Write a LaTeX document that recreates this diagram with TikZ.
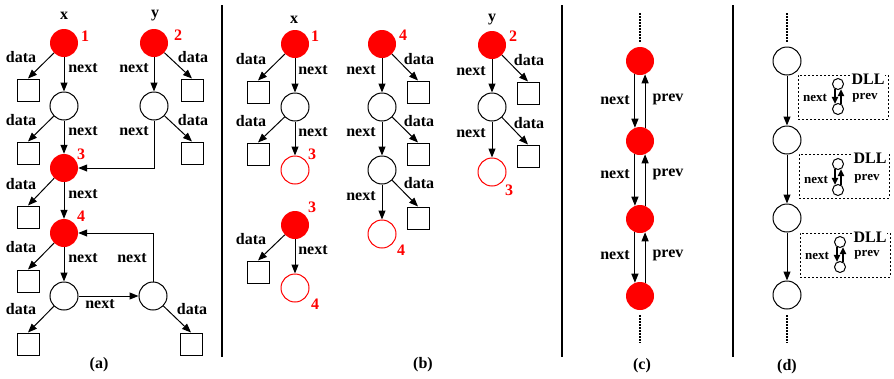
\documentclass[tikz,border=0pt]{standalone}
\usepackage{fontspec}
\setmainfont{Liberation Serif}
\usetikzlibrary{arrows.meta}
\tikzset{
  lbl/.style={inner sep=0pt,font=\fontsize{16}{18}\selectfont\bfseries},
  slbl/.style={inner sep=0pt,font=\fontsize{13}{15}\selectfont\bfseries},
  num/.style={lbl,text=red},
  rn/.style={circle,fill=red,minimum size=28pt,inner sep=0pt},
  wn/.style={circle,draw,line width=1pt,fill=white,minimum size=28pt,inner sep=0pt},
  hn/.style={circle,draw=red,line width=1pt,fill=white,minimum size=28pt,inner sep=0pt},
  sn/.style={circle,draw,line width=1pt,fill=white,minimum size=11pt,inner sep=0pt},
  bx/.style={draw,line width=1pt,minimum size=22pt,inner sep=0pt},
  arr/.style={-{Triangle[length=9pt,width=7pt]},line width=1pt},
  sarr/.style={-{Triangle[length=7pt,width=6.5pt]},line width=1.1pt},
  divider/.style={line width=2pt},
  dotline/.style={line width=2pt,dash pattern=on 1.5pt off 1.5pt},
  dllbox/.style={draw,line width=0.8pt,dash pattern=on 2pt off 2pt,minimum width=90pt,minimum height=44pt,inner sep=0pt},
  dlltag/.style={lbl,fill=white,inner xsep=1pt,inner ysep=0pt}
}
\begin{document}
\begin{tikzpicture}[x=1pt,y=-1pt]
\useasboundingbox (0,0) rectangle (894,378);

% ---------------- panel (a) ----------------
\node[lbl] (atx) at (64,16) {x};
\node[lbl] (aty) at (155,16) {y};
\node[rn] (a1) at (64,43) {};
\node[num] (a1n) at (85,36) {1};
\node[rn] (a2) at (154,43) {};
\node[num] (a2n) at (178,35) {2};
\node[bx] (ab1) at (28,90) {};
\node[wn] (aw1) at (64,106) {};
\node[bx] (ab2) at (192,90) {};
\node[wn] (aw2) at (154,106) {};
\node[bx] (ab3) at (28,153) {};
\node[bx] (ab4) at (192,153) {};
\node[rn] (a3) at (64,168) {};
\node[num] (a3n) at (81,154) {3};
\node[bx] (ab5) at (28,217) {};
\node[rn] (a4) at (64,233) {};
\node[num] (a4n) at (81,216) {4};
\node[bx] (ab6) at (28,281) {};
\node[wn] (aw3) at (64,296) {};
\node[wn] (aw4) at (153,296) {};
\node[bx] (ab7) at (28,344) {};
\node[bx] (ab8) at (191,344) {};

\draw[arr] (a1) -- (ab1.north);
\draw[arr] (a1) -- (aw1);
\draw[arr] (a2) -- (ab2.north);
\draw[arr] (a2) -- (aw2);
\draw[arr] (aw1) -- (ab3.north);
\draw[arr] (aw1) -- (a3);
\draw[arr] (aw2) -- (ab4.north);
\draw[arr] (aw2.south) |- (a3.east);
\draw[arr] (a3) -- (ab5.north);
\draw[arr] (a3) -- (a4);
\draw[arr] (a4) -- (ab6.north);
\draw[arr] (a4) -- (aw3);
\draw[arr] (aw3) -- (aw4);
\draw[arr] (aw3) -- (ab7.north);
\draw[arr] (aw4) -- (ab8.north);
\draw[arr] (aw4.north) |- (a4.east);

\node[lbl] (al1) at (21,57) {data};
\node[lbl] (al2) at (83,68) {next};
\node[lbl] (al3) at (193,57) {data};
\node[lbl] (al4) at (134,68) {next};
\node[lbl] (al5) at (21,120) {data};
\node[lbl] (al6) at (83,131) {next};
\node[lbl] (al7) at (193,120) {data};
\node[lbl] (al8) at (134,131) {next};
\node[lbl] (al9) at (21,184) {data};
\node[lbl] (al10) at (83,194) {next};
\node[lbl] (al11) at (21,247) {data};
\node[lbl] (al12) at (83,258) {next};
\node[lbl] (al13) at (132,258) {next};
\node[lbl] (al14) at (100,304) {next};
\node[lbl] (al15) at (21,309) {data};
\node[lbl] (al16) at (192,309) {data};
\node[lbl] (acap) at (99,365) {(a)};

% dividers
\coordinate (d1t) at (222,5); \coordinate (d1b) at (222,357);
\coordinate (d2t) at (562,5); \coordinate (d2b) at (562,357);
\coordinate (d3t) at (733,5); \coordinate (d3b) at (733,357);
\draw[divider] (d1t) -- (d1b);
\draw[divider] (d2t) -- (d2b);
\draw[divider] (d3t) -- (d3b);

% ---------------- panel (b) ----------------
\node[lbl] (btx) at (294,20) {x};
\node[rn] (b1) at (295,44) {};
\node[num] (b1n) at (315,36) {1};
\node[bx] (bb1) at (258,92) {};
\node[wn] (bw1) at (295,107) {};
\node[bx] (bb2) at (258,154) {};
\node[hn] (bh3) at (295,170) {};
\node[num] (bh3n) at (312,154) {3};
\draw[arr] (b1) -- (bb1.north);
\draw[arr] (b1) -- (bw1);
\draw[arr] (bw1) -- (bb2.north);
\draw[arr] (bw1) -- (bh3);
\node[lbl] (bl1) at (251,59) {data};
\node[lbl] (bl2) at (313,70) {next};
\node[lbl] (bl3) at (251,121) {data};
\node[lbl] (bl4) at (313,132) {next};

\node[rn] (b4) at (382,44) {};
\node[num] (b4n) at (403,35) {4};
\node[bx] (bb3) at (418,92) {};
\node[wn] (bw2) at (382,107) {};
\node[bx] (bb4) at (418,154) {};
\node[wn] (bw3) at (382,170) {};
\node[bx] (bb5) at (418,218) {};
\node[hn] (bh4) at (382,234) {};
\node[num] (bh4n) at (401,250) {4};
\draw[arr] (b4) -- (bb3.north);
\draw[arr] (b4) -- (bw2);
\draw[arr] (bw2) -- (bb4.north);
\draw[arr] (bw2) -- (bw3);
\draw[arr] (bw3) -- (bb5.north);
\draw[arr] (bw3) -- (bh4);
\node[lbl] (bl5) at (361,70) {next};
\node[lbl] (bl6) at (419,59) {data};
\node[lbl] (bl7) at (361,132) {next};
\node[lbl] (bl8) at (419,121) {data};
\node[lbl] (bl9) at (419,183) {data};
\node[lbl] (bl10) at (361,196) {next};

\node[lbl] (bty) at (492,20) {y};
\node[rn] (b2) at (492,45) {};
\node[num] (b2n) at (513,36) {2};
\node[bx] (bb6) at (528,93) {};
\node[wn] (bw4) at (492,107) {};
\node[bx] (bb7) at (528,156) {};
\node[hn] (bh5) at (492,172) {};
\node[num] (bh5n) at (509,190) {3};
\draw[arr] (b2) -- (bb6.north);
\draw[arr] (b2) -- (bw4);
\draw[arr] (bw4) -- (bb7.north);
\draw[arr] (bw4) -- (bh5);
\node[lbl] (bl11) at (471,71) {next};
\node[lbl] (bl12) at (529,60) {data};
\node[lbl] (bl13) at (471,133) {next};
\node[lbl] (bl14) at (529,123) {data};

\node[rn] (b3) at (295,225) {};
\node[num] (b3n) at (312,207) {3};
\node[bx] (bb8) at (258,272) {};
\node[hn] (bh6) at (295,288) {};
\node[num] (bh6n) at (315,304) {4};
\draw[arr] (b3) -- (bb8.north);
\draw[arr] (b3) -- (bh6);
\node[lbl] (bl15) at (251,239) {data};
\node[lbl] (bl16) at (313,250) {next};
\node[lbl] (bcap) at (423,365) {(b)};

% ---------------- panel (c) ----------------
\coordinate (ctop) at (640,13); \coordinate (ctope) at (640,42);
\coordinate (cbot) at (640,315); \coordinate (cbote) at (640,343);
\draw[dotline] (ctop) -- (ctope);
\draw[dotline] (cbot) -- (cbote);
\node[rn] (c1) at (640,61) {};
\node[rn] (c2) at (640,141) {};
\node[rn] (c3) at (640,219) {};
\node[rn] (c4) at (640,296) {};
\draw[arr] (c1.-111) -- (c2.111);
\draw[arr] (c2.69) -- (c1.-69);
\draw[arr] (c2.-111) -- (c3.111);
\draw[arr] (c3.69) -- (c2.-69);
\draw[arr] (c3.-111) -- (c4.111);
\draw[arr] (c4.69) -- (c3.-69);
\node[lbl] (cl1) at (615,100) {next};
\node[lbl] (cl2) at (668,99) {prev};
\node[lbl] (cl3) at (615,174) {next};
\node[lbl] (cl4) at (668,174) {prev};
\node[lbl] (cl5) at (615,255) {next};
\node[lbl] (cl6) at (668,255) {prev};
\node[lbl] (ccap) at (642,366) {(c)};

% ---------------- panel (d) ----------------
\coordinate (dtop) at (787,13); \coordinate (dtope) at (787,42);
\coordinate (dbot) at (787,315); \coordinate (dbote) at (787,343);
\draw[dotline] (dtop) -- (dtope);
\draw[dotline] (dbot) -- (dbote);
\node[wn] (e1) at (787,61) {};
\node[wn] (e2) at (787,140) {};
\node[wn] (e3) at (787,218) {};
\node[wn] (e4) at (787,295) {};
\draw[arr] (e1) -- (e2);
\draw[arr] (e2) -- (e3);
\draw[arr] (e3) -- (e4);

\node[dllbox] (q1) at (843,97) {};
\node[dllbox] (q2) at (844,176) {};
\node[dllbox] (q3) at (845,255) {};
\node[dlltag] (q1t) at (868,79) {DLL};
\node[dlltag] (q2t) at (870,158) {DLL};
\node[dlltag] (q3t) at (870,237) {DLL};

\node[sn] (s1a) at (838,84) {};
\node[sn] (s1b) at (838,109) {};
\node[sn] (s2a) at (838,164) {};
\node[sn] (s2b) at (838,190) {};
\node[sn] (s3a) at (840,242) {};
\node[sn] (s3b) at (840,267) {};
\draw[sarr] (s1a.-120) -- (s1b.120);
\draw[sarr] (s1b.60) -- (s1a.-60);
\draw[sarr] (s2a.-120) -- (s2b.120);
\draw[sarr] (s2b.60) -- (s2a.-60);
\draw[sarr] (s3a.-120) -- (s3b.120);
\draw[sarr] (s3b.60) -- (s3a.-60);
\node[slbl] (ql1) at (815,98) {next};
\node[slbl] (ql2) at (865,98) {prev};
\node[slbl] (ql3) at (816,180) {next};
\node[slbl] (ql4) at (867,179) {prev};
\node[slbl] (ql5) at (817,256) {next};
\node[slbl] (ql6) at (867,255) {prev};
\node[lbl] (dcap) at (787,367) {(d)};
\end{tikzpicture}
\end{document}
